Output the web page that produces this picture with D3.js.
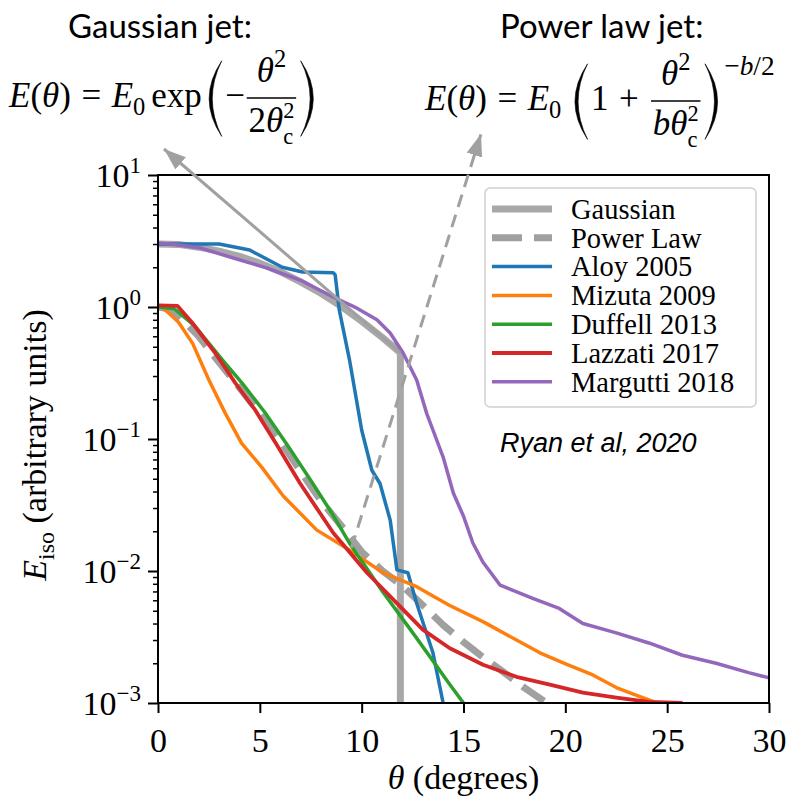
<!DOCTYPE html>
<html>
<head>
<meta charset="utf-8">
<script src="https://cdn.jsdelivr.net/npm/d3@7"></script>
<style>
body { margin: 0; background: #fff; }
svg { display: block; }
</style>
</head>
<body>
<div id="chart"></div>
<script>
// ---- data ----
const thetaTicks = [0, 5, 10, 15, 20, 25, 30];
const eTicks = [1e-3, 1e-2, 1e-1, 1e0, 1e1];
const eTickExp = ["\u22123", "\u22122", "\u22121", "0", "1"];

const legendNames = ["Gaussian", "Power Law", "Aloy 2005", "Mizuta 2009", "Duffell 2013", "Lazzati 2017", "Margutti 2018"];

const gaussTheta = [0, 1, 2, 3, 4, 5, 6, 7, 8, 9, 10, 11, 11.9, 11.9];
const gaussE = [3.0, 2.98, 2.84, 2.65, 2.42, 2.15, 1.85, 1.55, 1.27, 1.01, 0.78, 0.59, 0.45, 0.001];

const powerTheta = [0, 0.5, 1, 2, 3, 4, 5, 6, 7, 8, 9, 10, 11, 12, 13, 14, 15, 16, 17, 18, 19];
const powerE = [1.0, 0.97, 0.86, 0.6, 0.38, 0.245, 0.155, 0.097, 0.057, 0.034, 0.022, 0.014, 0.0101, 0.0077, 0.0055, 0.0039, 0.0029, 0.0022, 0.0017, 0.0013, 0.00102];

const aloyTheta = [0, 1, 2, 3, 4.5, 6.1, 7.1, 8.6, 8.7, 8.9, 9.4, 10.0, 10.5, 10.9, 11.4, 11.73, 12.27, 12.7, 13.5, 14.0];
const aloyE = [3.0, 3.0, 3.0, 3.0, 2.7, 2.0, 1.84, 1.82, 1.75, 0.95, 0.40, 0.117, 0.058, 0.046, 0.0243, 0.0102, 0.0097, 0.0057, 0.0024, 0.001];

const mizutaTheta = [0, 0.2, 1, 1.7, 2.5, 3.3, 4.1, 5.1, 6.15, 7.8, 9.4, 11.05, 12.7, 14.3, 16.0, 17.6, 18.75, 20.1, 21.35, 22.5, 23.5, 24.5];
const mizutaE = [1.0, 1.0, 0.77, 0.53, 0.28, 0.157, 0.093, 0.061, 0.037, 0.0204, 0.0144, 0.0097, 0.0076, 0.0055, 0.0041, 0.003, 0.0024, 0.00195, 0.00163, 0.00131, 0.00114, 0.001];

const duffellTheta = [0, 0.8, 1.8, 3.15, 4.13, 5.26, 6.39, 7.56, 8.5, 9.43, 11.05, 12.7, 14.3, 15.0];
const duffellE = [1.0, 0.97, 0.72, 0.40, 0.265, 0.158, 0.088, 0.047, 0.028, 0.016, 0.0069, 0.0031, 0.0014, 0.001];

const lazzatiTheta = [0, 0.95, 1.68, 2.8, 3.8, 4.77, 5.8, 6.98, 8.6, 10.26, 11.88, 13.0, 14.33, 15.96, 17.6, 19.24, 20.86, 22.5, 24.1, 25.75];
const lazzatiE = [1.03, 1.02, 0.76, 0.45, 0.265, 0.166, 0.092, 0.046, 0.0195, 0.0097, 0.0054, 0.0036, 0.0026, 0.00195, 0.00158, 0.00138, 0.0012, 0.0011, 0.00102, 0.001];

const marguttiTheta = [0, 1, 2.08, 3.7, 5.36, 6.98, 8.6, 9.77, 10.75, 11.4, 12.03, 12.7, 13.2, 13.5, 14.0, 14.5, 15.0, 15.46, 15.95, 16.8, 18.4, 19.7, 20.86, 22.5, 24.1, 25.75, 27.4, 29.0, 30];
const marguttiE = [3.05, 2.95, 2.8, 2.35, 1.97, 1.6, 1.19, 0.98, 0.80, 0.635, 0.45, 0.28, 0.155, 0.117, 0.073, 0.039, 0.026, 0.0163, 0.0117, 0.0078, 0.0062, 0.0052, 0.004, 0.0034, 0.00285, 0.0023, 0.002, 0.0017, 0.00155];

const seriesColors = ["#a8a8a8", "#a0a0a0", "#1f77b4", "#ff7f0e", "#2ca02c", "#d62728", "#9467bd"];

const zip = (t, e) => t.map((d, i) => [d, e[i]]);
const series = [
    { name: legendNames[0], pts: zip(gaussTheta, gaussE), color: seriesColors[0], width: 7, dash: null },
    { name: legendNames[1], pts: zip(powerTheta, powerE), color: seriesColors[1], width: 7, dash: "26,12" },
    { name: legendNames[2], pts: zip(aloyTheta, aloyE), color: seriesColors[2], width: 3.5, dash: null },
    { name: legendNames[3], pts: zip(mizutaTheta, mizutaE), color: seriesColors[3], width: 3.5, dash: null },
    { name: legendNames[4], pts: zip(duffellTheta, duffellE), color: seriesColors[4], width: 3.5, dash: null },
    { name: legendNames[5], pts: zip(lazzatiTheta, lazzatiE), color: seriesColors[5], width: 3.8, dash: null },
    { name: legendNames[6], pts: zip(marguttiTheta, marguttiE), color: seriesColors[6], width: 3.5, dash: null }
];

// arrow from a data point to a spot next to the formula (pixels)
const gaussArrow = { from: [11.9, 0.45], to: [164, 149] };
const powerArrow = { from: [9.5, 0.015], to: [481, 134] };

// ---- pick a serif face that is really there (width test against monospace) ----
const pickFont = (cands, fallback) => {
    const c = document.createElement("canvas").getContext("2d");
    const probe = "mmmmmlllliiWWQ0123456789";
    c.font = "40px monospace";
    const base = c.measureText(probe).width;
    for (const f of cands) {
        c.font = `40px '${f}', monospace`;
        if (Math.abs(c.measureText(probe).width - base) > 0.5) return `'${f}'`;
    }
    return fallback;
};
const serif = pickFont(["Liberation Serif", "Tinos", "Times New Roman", "Nimbus Roman", "DejaVu Serif", "Noto Serif"], "serif");
const W = 788, H = 801;

const svg = d3.select("#chart")
    .append("svg")
        .attr("width", W)
        .attr("height", H);

svg.append("rect").attr("width", W).attr("height", H).attr("fill", "#fff");

const x = d3.scaleLinear()
    .domain([0, 30])
    .range([158, 769]);

const y = d3.scaleLog()
    .domain([1e-3, 10])
    .range([703, 175]);

const [x0, x1] = x.range();
const [y0, y1] = y.range();

svg.append("defs")
    .append("clipPath")
        .attr("id", "plot-clip")
    .append("rect")
        .attr("x", x0)
        .attr("y", y1)
        .attr("width", x1 - x0)
        .attr("height", y0 - y1);

const marker = svg.select("defs")
    .append("marker")
        .attr("id", "arrow-head")
        .attr("markerUnits", "userSpaceOnUse")
        .attr("markerWidth", 24)
        .attr("markerHeight", 18)
        .attr("refX", 22)
        .attr("refY", 8)
        .attr("orient", "auto");
marker.append("path")
    .attr("d", "M0,0 L22,8 L0,16 Z")
    .attr("fill", "#a0a0a0");

// curves
const line = d3.line()
    .x(d => x(d[0]))
    .y(d => y(d[1]));

svg.append("g")
    .attr("clip-path", "url(#plot-clip)")
    .selectAll("path")
    .data(series)
    .enter()
    .append("path")
        .attr("d", d => line(d.pts))
        .attr("fill", "none")
        .attr("stroke", d => d.color)
        .attr("stroke-width", d => d.width)
        .attr("stroke-dasharray", d => d.dash)
        .attr("stroke-linejoin", "round");

// x axis
const gx = svg.append("g")
    .attr("transform", `translate(0,${y0})`)
    .call(d3.axisBottom(x)
        .tickValues(thetaTicks)
        .tickSize(10)
        .tickSizeOuter(0)
        .tickFormat(d3.format("d")));
gx.select(".domain").remove();
gx.selectAll(".tick line").attr("stroke", "#000").attr("stroke-width", 2);
gx.selectAll(".tick text")
    .attr("font-family", serif)
    .attr("font-size", 34)
    .attr("fill", "#000")
    .attr("y", 49)
    .attr("dy", null);

// y axis, minor then major
const minor = y.ticks().filter(v => Math.abs(Math.log10(v) - Math.round(Math.log10(v))) > 1e-6);
const gyMinor = svg.append("g")
    .attr("transform", `translate(${x0},0)`)
    .call(d3.axisLeft(y).tickValues(minor).tickSize(5).tickSizeOuter(0).tickFormat(""));
gyMinor.select(".domain").remove();
gyMinor.selectAll(".tick line").attr("stroke", "#000").attr("stroke-width", 1.5);

const gy = svg.append("g")
    .attr("transform", `translate(${x0},0)`)
    .call(d3.axisLeft(y).tickValues(eTicks).tickSize(10).tickSizeOuter(0).tickFormat(""));
gy.select(".domain").remove();
gy.selectAll(".tick line").attr("stroke", "#000").attr("stroke-width", 2);
gy.selectAll(".tick text")
    .attr("font-family", serif)
    .attr("font-size", 34)
    .attr("fill", "#000")
    .attr("x", -17)
    .attr("dy", "0.33em")
    .each(function (d, i) {
        const t = d3.select(this);
        t.append("tspan").text("10");
        t.append("tspan").attr("font-size", 23).attr("dy", -14).text(eTickExp[i]);
    });

// frame
svg.append("rect")
    .attr("x", x0)
    .attr("y", y1)
    .attr("width", x1 - x0)
    .attr("height", y0 - y1)
    .attr("fill", "none")
    .attr("stroke", "#000")
    .attr("stroke-width", 2);

// axis labels
svg.append("text")
    .attr("x", (x0 + x1) / 2)
    .attr("y", 789)
    .attr("text-anchor", "middle")
    .attr("font-family", serif)
    .attr("font-size", 34)
    .call(t => {
        t.append("tspan").attr("font-style", "italic").text("\u03b8");
        t.append("tspan").text(" (degrees)");
    });

svg.append("text")
    .attr("transform", `translate(46,${(y0 + y1) / 2 + 6}) rotate(-90)`)
    .attr("text-anchor", "middle")
    .attr("font-family", serif)
    .attr("font-size", 34)
    .call(t => {
        t.append("tspan").attr("font-style", "italic").text("E");
        t.append("tspan").attr("font-size", 24).attr("dy", 8).text("iso");
        t.append("tspan").attr("dy", -8).text(" (arbitrary units)");
    });

// legend
const legend = svg.append("g");
legend.append("rect")
    .attr("x", 485)
    .attr("y", 188)
    .attr("width", 271)
    .attr("height", 219)
    .attr("rx", 5)
    .attr("fill", "#fff")
    .attr("fill-opacity", 0.85)
    .attr("stroke", "#d0d0d0")
    .attr("stroke-width", 1.5);

const rows = legend.selectAll("g.row")
    .data(series)
    .enter()
    .append("g")
        .classed("row", true)
        .attr("transform", (d, i) => `translate(0,${209 + i * 28.8})`);
rows.append("line")
    .attr("x1", 492)
    .attr("x2", 552)
    .attr("stroke", d => d.color)
    .attr("stroke-width", d => d.width)
    .attr("stroke-dasharray", d => d.dash ? "30,12" : null);
rows.append("text")
    .attr("x", 571)
    .attr("dy", "0.34em")
    .attr("font-family", serif)
    .attr("font-size", 28.5)
    .text(d => d.name);

// arrows
const arrow = (a, dash) => svg.append("line")
    .attr("x1", x(a.from[0]))
    .attr("y1", y(a.from[1]))
    .attr("x2", a.to[0])
    .attr("y2", a.to[1])
    .attr("stroke", "#a0a0a0")
    .attr("stroke-width", 3)
    .attr("stroke-dasharray", dash)
    .attr("marker-end", "url(#arrow-head)");
arrow(gaussArrow, null);
arrow(powerArrow, "13,8");

// annotation text
svg.append("text")
    .attr("x", 500)
    .attr("y", 452)
    .attr("font-family", "'Liberation Sans', Arial, sans-serif")
    .attr("font-style", "italic")
    .attr("font-size", 27)
    .text("Ryan et al, 2020");

const sans = "Lato, 'Open Sans', sans-serif";
svg.append("text").attr("x", 68).attr("y", 38)
    .attr("font-family", sans).attr("font-size", 33).text("Gaussian jet:");
svg.append("text").attr("x", 500).attr("y", 38)
    .attr("font-family", sans).attr("font-size", 33).text("Power law jet:");

// ---- formulas ----
// a row of math: plain runs share one <text>, fractions / big parens break it
const drawRow = (g, items, fs) => {
    let cx = 0, run = null, pend = 0;
    const flush = () => {
        if (run) {
            const b = run.node().getBBox();
            cx = b.x + b.width;
            run = null;
        }
    };
    const tsp = (s, o) => {
        if (!run) {
            run = g.append("text")
                .attr("x", cx + pend)
                .attr("y", 0)
                .attr("font-family", serif)
                .attr("font-size", fs);
            pend = 0;
        }
        const sp = run.append("tspan")
            .attr("y", o.y || 0)
            .attr("font-size", o.size || fs)
            .attr("font-style", o.i ? "italic" : "normal")
            .text(s);
        if (pend) { sp.attr("dx", pend); pend = 0; }
        return sp;
    };
    items.forEach(it => {
        if (it.sp != null) {
            pend += it.sp * fs;
        } else if (it.t != null) {
            tsp(it.t, { i: it.i });
        } else if (it.sub != null) {
            tsp(it.sub, { y: 0.22 * fs, size: 0.7 * fs });
        } else if (it.sup != null) {
            tsp(it.sup, { y: -0.42 * fs, size: 0.7 * fs });
        } else if (it.thetac) {
            tsp("\u03b8", { i: true });
            const s2 = tsp("2", { y: -0.42 * fs, size: 0.64 * fs });
            const w2 = s2.node().getComputedTextLength();
            tsp("c", { y: 0.34 * fs, size: 0.64 * fs }).attr("dx", -w2);
        } else {
            flush();
            cx += pend;
            pend = 0;
            if (it.frac) {
                const gn = g.append("g"), gd = g.append("g");
                const wn = drawRow(gn, it.frac[0], fs);
                const wd = drawRow(gd, it.frac[1], fs);
                const w = Math.max(wn, wd) + 0.2 * fs;
                gn.attr("transform", `translate(${cx + (w - wn) / 2},${-0.72 * fs})`);
                gd.attr("transform", `translate(${cx + (w - wd) / 2},${0.72 * fs})`);
                g.append("line")
                    .attr("x1", cx + 0.05 * fs).attr("x2", cx + w - 0.05 * fs)
                    .attr("y1", -0.26 * fs).attr("y2", -0.26 * fs)
                    .attr("stroke", "#000").attr("stroke-width", 1.5);
                cx += w;
            } else if (it.paren) {
                const top = -1.32 * fs, bot = 0.84 * fs, mid = (top + bot) / 2;
                const open = it.paren === "(";
                const xa = open ? cx + 0.45 * fs : cx + 0.08 * fs;
                const d = 0.36 * fs, th = 0.09 * fs;
                const s = open ? -1 : 1;
                g.append("path")
                    .attr("d", `M${xa},${top} Q${xa + s * 2 * d},${mid} ${xa},${bot} Q${xa + s * 2 * (d - th)},${mid} ${xa},${top} Z`)
                    .attr("fill", "#000")
                    .attr("stroke", "#000")
                    .attr("stroke-width", 0.6);
                cx += 0.55 * fs;
            } else if (it.raise) {
                const gr = g.append("g");
                const w = drawRow(gr, it.raise, 0.78 * fs);
                gr.attr("transform", `translate(${cx},${-1.0 * fs})`);
                cx += w;
            }
        }
    });
    flush();
    return cx + pend;
};

const mathFs = 35;
const lhs = (gap) => [
    { t: "E", i: true }, { t: "(" }, { t: "\u03b8", i: true }, { t: ")" },
    { sp: 0.3 }, { t: "=" }, { sp: 0.3 },
    { t: "E", i: true }, { sub: "0" }, { sp: gap }
];
const thetaSq = [{ t: "\u03b8", i: true }, { sup: "2" }];

const gaussFormula = lhs(0.17).concat([
    { t: "exp" }, { sp: 0.12 },
    { paren: "(" }, { t: "\u2212" },
    { frac: [thetaSq, [{ t: "2" }, { thetac: true }]] },
    { paren: ")" }
]);
const powerFormula = lhs(0.3).concat([
    { paren: "(" }, { t: "1" }, { sp: 0.3 }, { t: "+" }, { sp: 0.3 },
    { frac: [thetaSq, [{ t: "b", i: true }, { thetac: true }]] },
    { paren: ")" }, { sp: 0.08 },
    { raise: [{ t: "\u2212" }, { t: "b", i: true }, { t: "/2" }] }
]);

drawRow(svg.append("g").attr("transform", "translate(9,107)"), gaussFormula, mathFs);
drawRow(svg.append("g").attr("transform", "translate(425,110)"), powerFormula, mathFs);
</script>
</body>
</html>
